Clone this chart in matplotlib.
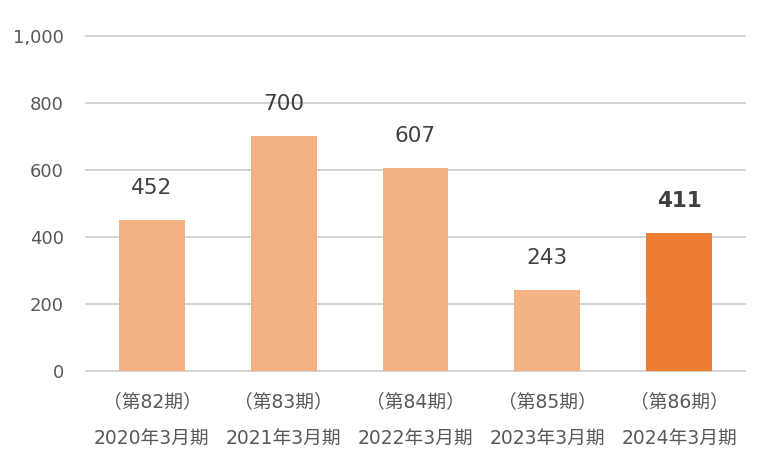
import matplotlib.pyplot as plt
import matplotlib.transforms as mtransforms

plt.rcParams['font.family'] = ['DejaVu Sans', 'Noto Sans CJK JP']

periods = ["（第82期）", "（第83期）", "（第84期）", "（第85期）", "（第86期）"]
years = ["2020年3月期", "2021年3月期", "2022年3月期", "2023年3月期", "2024年3月期"]
values = [452, 700, 607, 243, 411]
colors = ["#F4B183", "#F4B183", "#F4B183", "#F4B183", "#ED7D31"]

fig = plt.figure(figsize=(7.68, 4.72), dpi=100)
ax = fig.add_axes([0.112, 0.214, 0.858, 0.71])

x = list(range(len(values)))
ax.bar(x, values, width=0.5, color=colors, zorder=2)

for i, v in enumerate(values):
    ax.annotate(f"{v}", (i, v), xytext=(0, 23), textcoords="offset points",
                ha="center", va="center", fontsize=15.5, color="#404040",
                fontweight="bold" if i == len(values) - 1 else "normal")

ax.set_xlim(-0.5, 4.5)
ax.set_ylim(0, 1000)
ax.set_yticks(range(0, 1001, 200))
ax.set_yticklabels([f"{t:,}" for t in range(0, 1001, 200)])
ax.set_xticks(x)
ax.set_xticklabels([])

# two-line category labels drawn below the axis
trans = mtransforms.blended_transform_factory(ax.transData, ax.transAxes)
for i in x:
    ax.text(i, -0.092, periods[i], transform=trans, ha="center", va="center",
            fontsize=13.5, color="#595959")
    ax.text(i, -0.2, years[i], transform=trans, ha="center", va="center",
            fontsize=13.5, color="#595959")

ax.grid(axis="y", color="#D0D0D0", linewidth=1.3, zorder=0)
for gl in ax.get_ygridlines():
    gl.set_clip_on(False)
for s in ax.spines.values():
    s.set_visible(False)
ax.tick_params(axis="both", length=0, labelcolor="#595959", labelsize=13)
ax.tick_params(axis="y", pad=16)

fig.savefig("out.png", dpi=100)
